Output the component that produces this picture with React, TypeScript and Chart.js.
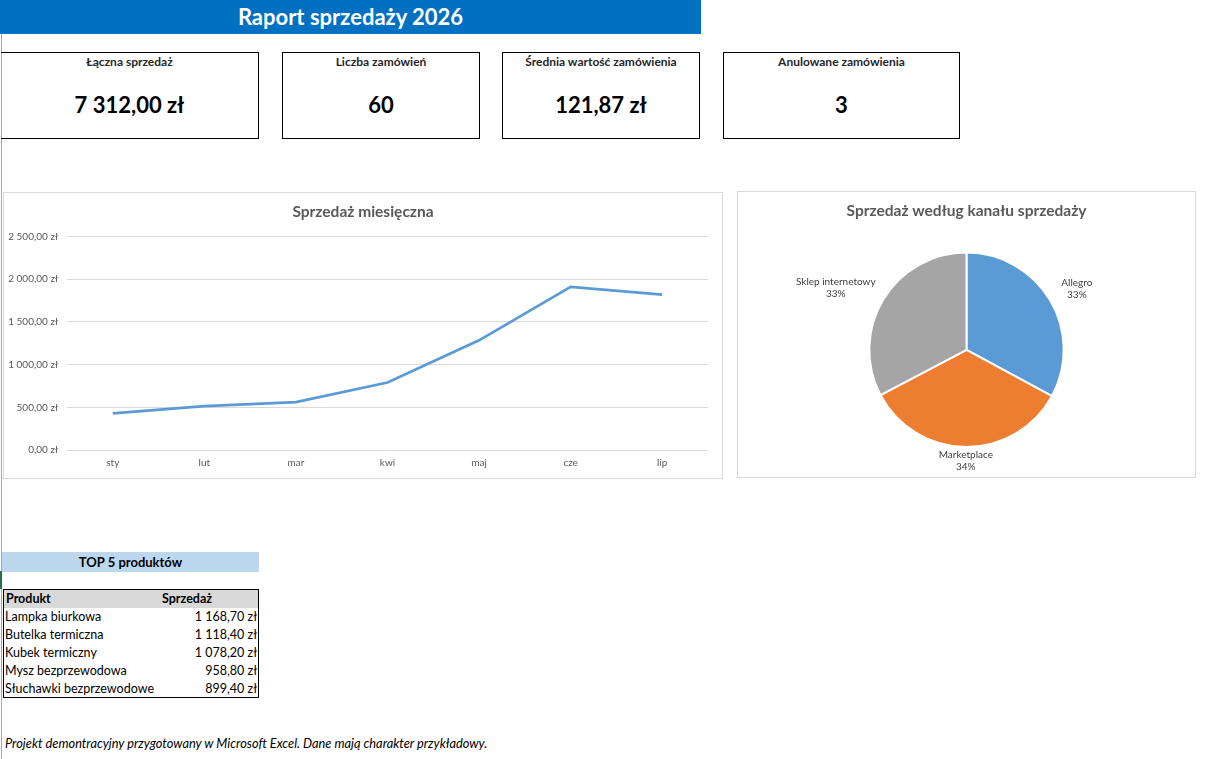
import React, { useEffect, useRef } from "react";
import { Chart, registerables } from "chart.js";

Chart.register(...registerables);

// ---- data ----
const reportTitle = "Raport sprzedaży 2026";

const months = ["sty", "lut", "mar", "kwi", "maj", "cze", "lip"];
const monthlySales = [430, 514, 561, 791, 1285, 1912, 1819];
const salesAxisMax = 2500;
const salesAxisStep = 500;

const channels = ["Allegro", "Marketplace", "Sklep internetowy"];
const channelSales = [2405, 2515, 2392];
const channelColors = ["#5B9BD5", "#ED7D31", "#A5A5A5"];

const orderCount = 60;
const cancelledOrders = 3;
const kpiLabels = [
  "Łączna sprzedaż",
  "Liczba zamówień",
  "Średnia wartość zamówienia",
  "Anulowane zamówienia",
];

const topProducts = [
  "Lampka biurkowa",
  "Butelka termiczna",
  "Kubek termiczny",
  "Mysz bezprzewodowa",
  "Słuchawki bezprzewodowe",
];
const topProductSales = [1168.7, 1118.4, 1078.2, 958.8, 899.4];

const footerNote =
  "Projekt demontracyjny przygotowany w Microsoft Excel. Dane mają charakter przykładowy.";

// ---- helpers ----
const FONT = "Lato, 'Open Sans', sans-serif";

function formatPln(v: number): string {
  const [intPart, dec] = v.toFixed(2).split(".");
  const grouped = intPart.replace(/\B(?=(\d{3})+(?!\d))/g, " ");
  return `${grouped},${dec} zł`;
}

const totalSales = monthlySales.reduce((a, b) => a + b, 0);
const kpiValues = [
  formatPln(totalSales),
  String(orderCount),
  formatPln(totalSales / orderCount),
  String(cancelledOrders),
];

// layout of the KPI cards
const kpiBoxes = [
  { left: 1, width: 258 },
  { left: 282, width: 198 },
  { left: 502, width: 198 },
  { left: 723, width: 237 },
];

// outside-end labels for pie slices: name + percentage
const pieLabelPlugin = {
  id: "pieOutsideLabels",
  afterDatasetsDraw(chart: any) {
    const ctx = chart.ctx as CanvasRenderingContext2D;
    const meta = chart.getDatasetMeta(0);
    const data = chart.data.datasets[0].data as number[];
    const total = data.reduce((a, b) => a + b, 0);
    const lineH = 12;
    ctx.save();
    ctx.font = `10px ${FONT}`;
    ctx.fillStyle = "#404040";
    ctx.textAlign = "center";
    ctx.textBaseline = "middle";
    meta.data.forEach((arc: any, i: number) => {
      const { x, y, startAngle, endAngle, outerRadius } = arc.getProps(
        ["x", "y", "startAngle", "endAngle", "outerRadius"],
        true
      );
      const mid = (startAngle + endAngle) / 2;
      const c = Math.cos(mid);
      const s = Math.sin(mid);
      const lines = [
        String(chart.data.labels[i]),
        `${Math.round((data[i] / total) * 100)}%`,
      ];
      const w = Math.max(...lines.map((t) => ctx.measureText(t).width));
      const h = lines.length * lineH;
      const pad = 2 + 16 * Math.abs(c);
      const px = x + (outerRadius + pad) * c;
      const py = y + (outerRadius + pad) * s;
      const cx = px + (c * w) / 2;
      const cy = py + (s * h) / 2 + 3 * Math.abs(c);
      lines.forEach((t, k) => {
        ctx.fillText(t, cx, cy - h / 2 + lineH / 2 + k * lineH);
      });
    });
    ctx.restore();
  },
};

function MonthlySalesChart() {
  const ref = useRef<HTMLCanvasElement>(null);
  useEffect(() => {
    const chart = new Chart(ref.current!, {
      type: "line",
      data: {
        labels: months,
        datasets: [
          {
            data: monthlySales,
            borderColor: "#5B9BD5",
            borderWidth: 2.75,
            pointRadius: 0,
            tension: 0,
            fill: false,
          },
        ],
      },
      options: {
        animation: false,
        responsive: false,
        maintainAspectRatio: false,
        layout: { padding: { left: 0, right: 0, top: 0, bottom: 2 } },
        plugins: {
          legend: { display: false },
          tooltip: { enabled: false },
          title: {
            display: true,
            text: "Sprzedaż miesięczna",
            color: "#595959",
            font: { family: FONT, size: 15.5, weight: "bold" },
            padding: { top: 10, bottom: 15 },
          },
        },
        scales: {
          x: {
            offset: true,
            grid: { display: false, drawTicks: false },
            border: { display: false },
            ticks: {
              color: "#595959",
              font: { family: FONT, size: 10 },
              padding: 7,
              maxRotation: 0,
            },
          },
          y: {
            min: 0,
            max: salesAxisMax,
            grid: { color: "#D9D9D9", drawTicks: false },
            border: { display: false },
            ticks: {
              stepSize: salesAxisStep,
              color: "#595959",
              font: { family: FONT, size: 10 },
              padding: 9,
              callback: (v: any) => formatPln(Number(v)),
            },
            afterFit: (s: any) => {
              s.width = 63;
            },
          },
          // empty margin on the right of the plot area
          yRight: {
            position: "right",
            display: true,
            grid: { display: false, drawTicks: false },
            border: { display: false },
            ticks: { display: false },
            afterFit: (s: any) => {
              s.width = 14;
            },
          },
        },
      },
    } as any);
    return () => chart.destroy();
  }, []);
  return <canvas ref={ref} width={718} height={285} style={{ display: "block" }} />;
}

function ChannelChart() {
  const ref = useRef<HTMLCanvasElement>(null);
  useEffect(() => {
    const chart = new Chart(ref.current!, {
      type: "pie",
      data: {
        labels: channels,
        datasets: [
          {
            data: channelSales,
            backgroundColor: channelColors,
            borderColor: "#FFFFFF",
            borderWidth: 2,
          },
        ],
      },
      options: {
        animation: false,
        responsive: false,
        maintainAspectRatio: false,
        layout: { padding: { left: 0, right: 0, top: 0, bottom: 29 } },
        plugins: {
          legend: { display: false },
          tooltip: { enabled: false },
          title: {
            display: true,
            text: "Sprzedaż według kanału sprzedaży",
            color: "#595959",
            font: { family: FONT, size: 15.5, weight: "bold" },
            padding: { top: 10, bottom: 31 },
          },
        },
      },
      plugins: [pieLabelPlugin],
    } as any);
    return () => chart.destroy();
  }, []);
  return <canvas ref={ref} width={457} height={285} style={{ display: "block" }} />;
}

export default function App() {
  useEffect(() => {
    document.body.style.margin = "0";
  }, []);

  const abs = (s: React.CSSProperties): React.CSSProperties => ({
    position: "absolute",
    boxSizing: "border-box",
    ...s,
  });

  return (
    <div
      style={{
        position: "relative",
        width: 1228,
        height: 759,
        background: "#FFFFFF",
        overflow: "hidden",
        fontFamily: FONT,
        color: "#000",
      }}
    >
      {/* sheet edge */}
      <div style={abs({ left: 1, top: 0, width: 1, height: 759, background: "#A6A6A6" })} />
      <div style={abs({ left: 0, top: 571, width: 2, height: 18, background: "#217346" })} />

      {/* title bar */}
      <div
        style={abs({
          left: 0,
          top: 0,
          width: 701,
          height: 34,
          background: "#0070C0",
          color: "#FFFFFF",
          fontWeight: 700,
          fontSize: 22,
          lineHeight: "34px",
          textAlign: "center",
        })}
      >
        {reportTitle}
      </div>

      {/* KPI cards */}
      {kpiBoxes.map((b, i) => (
        <div
          key={i}
          style={abs({
            left: b.left,
            top: 52,
            width: b.width,
            height: 87,
            border: "1px solid #000",
            borderLeft: i === 0 ? "none" : "1px solid #000",
          })}
        >
          <div
            style={abs({
              left: 0,
              right: 0,
              top: 1,
              textAlign: "center",
              fontSize: 12,
              fontWeight: 700,
              color: "#262626",
            })}
          >
            {kpiLabels[i]}
          </div>
          <div
            style={abs({
              left: 0,
              right: 0,
              top: 38,
              textAlign: "center",
              fontSize: 22,
              fontWeight: 700,
            })}
          >
            {kpiValues[i]}
          </div>
        </div>
      ))}

      {/* monthly sales chart */}
      <div
        style={abs({
          left: 3,
          top: 192,
          width: 720,
          height: 287,
          border: "1px solid #D9D9D9",
        })}
      >
        <MonthlySalesChart />
      </div>

      {/* channel pie chart */}
      <div
        style={abs({
          left: 737,
          top: 191,
          width: 459,
          height: 287,
          border: "1px solid #D9D9D9",
        })}
      >
        <ChannelChart />
      </div>

      {/* top products table */}
      <div
        style={abs({
          left: 2,
          top: 552,
          width: 257,
          height: 20,
          background: "#BDD7EE",
          fontWeight: 700,
          fontSize: 13,
          lineHeight: "20px",
          textAlign: "center",
        })}
      >
        TOP 5 produktów
      </div>
      <div
        style={abs({
          left: 3,
          top: 589,
          width: 256,
          height: 109,
          border: "1px solid #000",
          fontSize: 12.5,
        })}
      >
        <div
          style={abs({
            left: 0,
            top: 0,
            width: 254,
            height: 18,
            background: "#D9D9D9",
            fontWeight: 700,
            lineHeight: "18px",
          })}
        >
          <span style={{ position: "absolute", left: 2 }}>Produkt</span>
          <span style={{ position: "absolute", left: 158 }}>Sprzedaż</span>
        </div>
        {topProducts.map((p, i) => (
          <div
            key={p}
            style={abs({
              left: 0,
              top: 18 + i * 18,
              width: 254,
              height: 18,
              lineHeight: "18px",
            })}
          >
            <span style={{ position: "absolute", left: 1 }}>{p}</span>
            <span style={{ position: "absolute", right: 1 }}>{formatPln(topProductSales[i])}</span>
          </div>
        ))}
      </div>

      {/* footer */}
      <div
        style={abs({
          left: 5,
          top: 734,
          fontSize: 12.8,
          fontStyle: "italic",
          lineHeight: "18px",
          whiteSpace: "nowrap",
        })}
      >
        {footerNote}
      </div>
    </div>
  );
}
